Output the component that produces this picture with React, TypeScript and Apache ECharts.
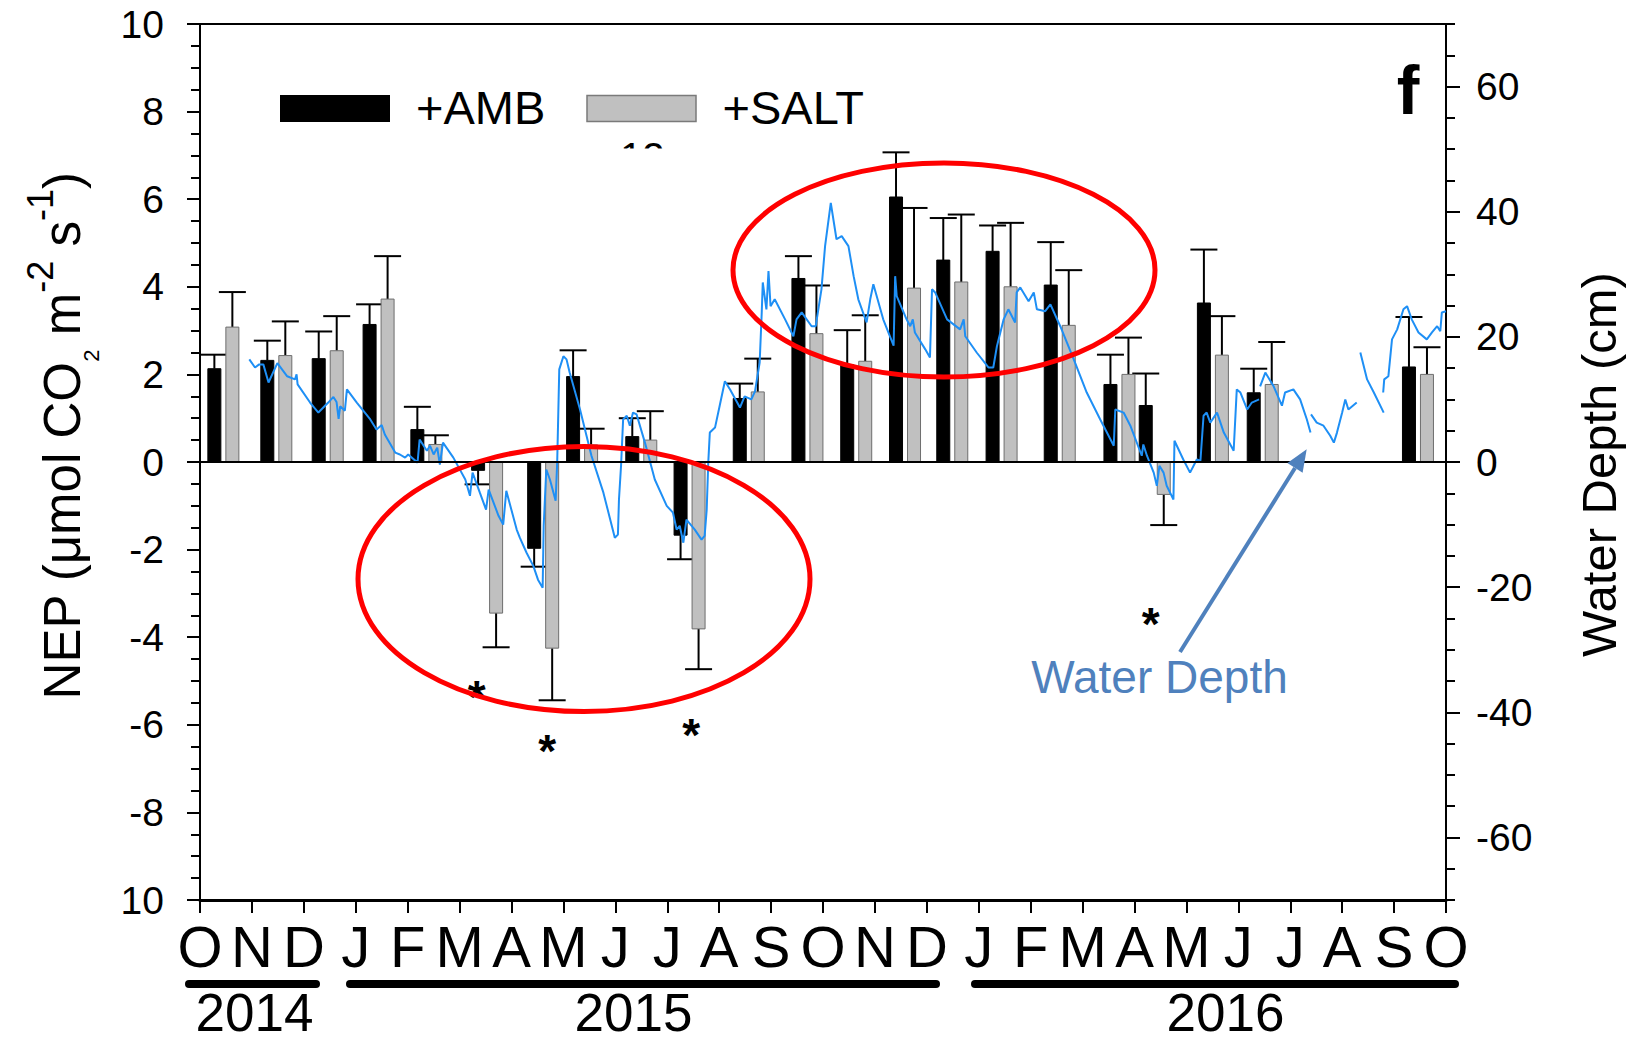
import React, { useEffect, useRef } from 'react';
import * as echarts from 'echarts';

// ---------- data ----------
const monthLabels = ['O','N','D','J','F','M','A','M','J','J','A','S','O','N','D','J','F','M','A','M','J','J','A','S','O'];
const yearLabels = ['2014', '2015', '2016'];
const rightMajorTicks = [-60, -40, -20, 0, 20, 40, 60];

// sampling dates, in months since 1 Oct 2014
const sampleMonths = [0.45, 1.47, 2.46, 3.44, 4.36, 5.53, 6.61, 7.36, 8.50, 9.43, 10.57, 11.70, 12.64, 13.58, 14.49, 15.44, 16.56, 17.71, 18.39, 19.51, 20.47, 23.46];
const ambNEP = [2.13, 2.32, 2.36, 3.14, 0.74, -0.19, -1.97, 1.95, 0.58, -1.67, 1.45, 4.19, 2.22, 6.05, 4.61, 4.81, 4.04, 1.77, 1.29, 3.63, 1.58, 2.17];
const ambSE = [0.32, 0.45, 0.62, 0.46, 0.52, 0.32, 0.42, 0.60, 0.42, 0.55, 0.34, 0.51, 0.79, 1.02, 0.96, 0.59, 0.98, 0.68, 0.73, 1.22, 0.55, 1.14];
const saltNEP = [3.08, 2.43, 2.54, 3.72, 0.40, -3.45, -4.25, 0.39, 0.50, -3.81, 1.60, 2.93, 2.30, 3.97, 4.11, 4.00, 3.12, 2.00, -0.74, 2.44, 1.77, 2.00];
const saltSE = [0.80, 0.78, 0.79, 0.98, 0.21, 0.78, 1.19, 0.37, 0.66, 0.92, 0.76, 1.10, 1.05, 1.83, 1.54, 1.46, 1.26, 0.84, 0.70, 0.89, 0.97, 0.62];

// water depth (cm) vs months since 1 Oct 2014; null = gap in record
const depthMonths = [0.95,1.06,1.14,1.22,1.32,1.49,1.68,1.83,1.86,1.88,2.12,2.28,2.47,2.57,2.63,2.67,2.70,2.79,2.83,3.02,3.28,3.40,3.50,3.56,3.76,3.85,3.95,4.01,4.19,4.23,4.37,4.43,4.50,4.57,4.62,4.68,4.88,5.11,5.20,5.25,5.39,5.51,5.56,5.75,5.84,5.90,6.10,6.16,6.29,6.42,6.51,6.60,6.62,6.67,6.74,6.85,6.88,6.92,7.00,7.06,7.12,7.32,7.54,7.77,7.99,8.05,8.07,8.11,8.15,8.22,8.28,8.34,8.41,8.57,8.76,8.99,9.11,9.18,9.24,9.31,9.37,9.53,9.66,9.72,9.76,9.79,9.82,9.92,10.01,10.11,10.21,10.40,10.49,10.62,10.69,10.78,10.82,10.84,10.91,10.95,10.99,11.07,11.27,11.43,11.49,11.59,11.78,11.86,11.97,12.04,12.15,12.26,12.36,12.49,12.59,12.68,12.84,12.91,12.97,13.16,13.36,13.39,13.42,13.61,13.68,13.73,13.77,13.97,14.06,14.10,14.16,14.39,14.64,14.71,14.74,14.96,15.19,15.28,15.35,15.48,15.57,15.70,15.73,15.80,15.96,16.06,16.12,16.28,16.38,16.57,16.83,17.08,17.34,17.60,17.63,17.79,17.92,18.14,18.17,18.24,18.37,18.43,18.48,18.56,18.62,18.75,18.77,18.94,19.07,19.20,19.27,19.33,19.39,19.46,19.59,19.72,19.91,19.97,20.04,20.17,20.26,20.40,20.41,20.42,20.52,20.68,20.84,20.90,21.06,21.19,21.32,21.39,21.395,21.40,21.51,21.64,21.77,21.84,21.90,22.00,22.06,22.12,22.28,22.31,22.35,22.48,22.61,22.80,22.795,22.79,22.81,22.89,22.96,23.06,23.18,23.25,23.34,23.47,23.63,23.73,23.83,23.89,23.92,24.00];
const depthCm = [16.4,15.1,15.6,15.6,12.7,15.8,13.7,13.2,14.0,12.4,9.5,7.9,9.5,10.4,9.6,6.9,8.9,8.2,11.6,9.5,6.8,5.2,5.9,4.4,1.5,1.2,0.7,1.2,-0.1,3.6,1.8,2.6,1.2,2.3,-0.4,3.1,0.7,-2.8,-5.4,-1.7,-4.9,-7.6,-4.4,-8.6,-10.0,-4.6,-10.8,-12.1,-14.5,-16.6,-18.8,-20.1,-10.2,-1.2,-2.8,-6.2,-0.1,14.8,16.9,16.4,14.3,8.4,1.0,-4.9,-12.1,-11.6,-6.0,-0.6,6.8,7.4,5.8,7.9,7.6,3.1,-2.8,-7.0,-8.1,-10.8,-10.2,-12.9,-9.2,-10.8,-12.4,-11.8,-7.6,-0.1,4.7,5.5,9.0,12.9,11.6,8.7,10.5,10.0,11.3,15.9,23.9,28.7,24.4,30.5,24.9,26.0,22.8,20.1,22.8,23.9,21.7,21.7,27.6,34.5,41.4,35.6,36.1,34.5,29.7,26.0,22.3,26.0,28.4,22.8,18.6,29.7,26.5,22.8,21.7,22.8,20.7,18.0,16.7,27.6,27.1,22.8,21.2,22.8,20.1,17.5,15.1,15.1,18.5,22.8,24.4,22.3,27.1,27.9,25.7,27.1,24.4,24.1,25.2,21.7,16.4,11.1,6.8,2.6,8.4,7.9,5.8,1.0,2.8,1.0,-1.7,-3.8,-0.6,-1.7,-3.8,-6.0,3.4,0.4,-1.7,0.4,0.2,7.4,7.9,6.3,7.9,4.7,1.8,11.6,11.1,8.4,9.5,10.0,null,12.1,14.3,12.1,9.0,11.1,11.6,10.0,6.8,4.7,null,7.6,6.3,5.8,4.2,3.1,4.7,7.9,10.0,8.4,9.5,null,17.5,13.2,11.1,7.9,null,11.1,13.2,13.7,19.6,21.2,24.4,24.9,22.8,20.7,19.6,20.7,21.7,20.9,23.9,24.1];

// significance markers
const starMonths = [5.33, 6.69, 9.46, 18.31];
const starNEP = [-5.14, -6.36, -6.0, -3.47];

const FONT = 'Liberation Sans';

function barRenderer(offset: number, fill: string, stroke: string | null) {
  return (params: any, api: any) => {
    const x = api.value(0);
    const v = api.value(1);
    const se = api.value(2);
    const base = api.coord([x, 0]);
    const top = api.coord([x, v]);
    const end = api.coord([x, v + (v >= 0 ? se : -se)]);
    const cx = base[0] + offset;
    const w = 13;
    const cap = 27;
    const y0 = Math.min(base[1], top[1]);
    const h = Math.abs(base[1] - top[1]);
    return {
      type: 'group',
      children: [
        { type: 'line', shape: { x1: cx, y1: top[1], x2: cx, y2: end[1] }, style: { stroke: '#000', lineWidth: 2 } },
        { type: 'line', shape: { x1: cx - cap / 2, y1: end[1], x2: cx + cap / 2, y2: end[1] }, style: { stroke: '#000', lineWidth: 2 } },
        { type: 'rect', shape: { x: cx - w / 2, y: y0, width: w, height: h }, style: { fill, stroke: stroke || fill, lineWidth: 1 } },
      ],
    };
  };
}

function txt(text: string, x: number, y: number, fontSize: number, extra: any = {}, styleExtra: any = {}) {
  return {
    type: 'text',
    x,
    y,
    z: 50,
    ...extra,
    style: {
      text,
      fontSize,
      fontFamily: FONT,
      fill: '#000',
      align: 'center',
      verticalAlign: 'middle',
      textAlign: 'center',
      textVerticalAlign: 'middle',
      ...styleExtra,
    },
  };
}

export default function App() {
  const ref = useRef<HTMLDivElement>(null);

  useEffect(() => {
    if (!ref.current) return;
    const chart = echarts.init(ref.current, null, { renderer: 'svg' });

    const axisLabelBase = { color: '#000', fontFamily: FONT };

    const option: any = {
      animation: false,
      backgroundColor: '#fff',
      grid: { left: 200, right: 182, top: 24, bottom: 142, show: true, borderColor: '#000', borderWidth: 2, backgroundColor: 'transparent' },
      xAxis: {
        type: 'value',
        min: 0,
        max: 24,
        interval: 1,
        position: 'bottom',
        axisLine: { onZero: false, lineStyle: { color: '#000', width: 3 } },
        axisTick: { length: 13, lineStyle: { color: '#000', width: 2 } },
        splitLine: { show: false },
        axisLabel: {
          ...axisLabelBase,
          fontSize: 58,
          lineHeight: 44,
          margin: 46,
          verticalAlign: 'middle',
          formatter: (v: number) => monthLabels[Math.round(v)] || '',
        },
      },
      yAxis: [
        {
          type: 'value',
          position: 'left',
          min: -10,
          max: 10,
          interval: 2,
          axisLine: { show: true, onZero: false, lineStyle: { color: '#000', width: 2 } },
          axisTick: { show: true, length: 13, lineStyle: { color: '#000', width: 2 } },
          minorTick: { show: true, splitNumber: 4, length: 9, lineStyle: { color: '#000', width: 2 } },
          splitLine: { show: false },
          axisLabel: {
            ...axisLabelBase,
            fontSize: 39,
            margin: 36,
            formatter: (v: number) => (v === -10 ? '10' : String(v)),
          },
        },
        {
          type: 'value',
          position: 'right',
          min: -70,
          max: 70,
          interval: 5,
          axisLine: { show: true, onZero: false, lineStyle: { color: '#000', width: 2 } },
          axisTick: { show: true, length: 14, customValues: rightMajorTicks, lineStyle: { color: '#000', width: 2 } },
          splitLine: { show: false },
          axisLabel: {
            ...axisLabelBase,
            fontSize: 39,
            margin: 30,
            customValues: rightMajorTicks,
            formatter: (v: number) => String(v),
          },
        },
        {
          type: 'value',
          position: 'right',
          min: -70,
          max: 70,
          interval: 5,
          axisLine: { show: false, onZero: false },
          axisTick: { show: true, length: 9, lineStyle: { color: '#000', width: 2 } },
          axisLabel: { show: false },
          splitLine: { show: false },
        },
      ],
      series: [
        {
          name: '+AMB',
          type: 'custom',
          xAxisIndex: 0,
          yAxisIndex: 0,
          z: 2,
          renderItem: barRenderer(-9, '#000000', null),
          encode: { x: 0, y: 1 },
          data: sampleMonths.map((m, i) => [m, ambNEP[i], ambSE[i]]),
        },
        {
          name: '+SALT',
          type: 'custom',
          xAxisIndex: 0,
          yAxisIndex: 0,
          z: 2,
          renderItem: barRenderer(9, '#c0c0c0', '#6e6e6e'),
          encode: { x: 0, y: 1 },
          data: sampleMonths.map((m, i) => [m, saltNEP[i], saltSE[i]]),
        },
        {
          name: 'Water Depth',
          type: 'line',
          xAxisIndex: 0,
          yAxisIndex: 1,
          z: 3,
          symbol: 'none',
          showSymbol: false,
          connectNulls: false,
          lineStyle: { color: '#1e8ff5', width: 2 },
          itemStyle: { color: '#1e8ff5' },
          data: depthMonths.map((m, i) => [m, depthCm[i] === null ? '-' : depthCm[i]]),
          markLine: {
            silent: true,
            symbol: ['none', 'none'],
            label: { show: false },
            lineStyle: { color: '#000', width: 2, type: 'solid' },
            data: [{ yAxis: 0 }],
          },
        },
        {
          name: 'significance',
          type: 'scatter',
          xAxisIndex: 0,
          yAxisIndex: 0,
          z: 4,
          symbolSize: 1,
          itemStyle: { color: 'rgba(0,0,0,0)', opacity: 1 },
          label: {
            show: true,
            position: 'inside',
            formatter: '*',
            fontSize: 46,
            lineHeight: 20,
            fontWeight: 'bold',
            fontFamily: FONT,
            color: '#000',
            opacity: 1,
            offset: [0, 10],
          },
          data: starMonths.map((m, i) => [m, starNEP[i]]),
        },
      ],
      graphic: [
        // legend
        { type: 'rect', shape: { x: 280, y: 95, width: 110, height: 27 }, style: { fill: '#000' }, z: 50 },
        txt('+AMB', 416, 107.5, 47, {}, { align: 'left', textAlign: 'left' }),
        { type: 'rect', shape: { x: 587, y: 95.5, width: 109, height: 26 }, style: { fill: '#c0c0c0', stroke: '#7a7a7a', lineWidth: 1.5 }, z: 50 },
        txt('+SALT', 722.5, 107.5, 47, {}, { align: 'left', textAlign: 'left' }),
        // partially hidden fragment under legend
        txt('12', 620, 157.3, 40, { z: 40 }, { align: 'left', textAlign: 'left' }),
        { type: 'rect', shape: { x: 598, y: 148.5, width: 84, height: 30 }, style: { fill: '#fff' }, z: 45 },
        // panel letter
        txt('f', 1408, 90.3, 68, {}, { fontWeight: 'bold' }),
        // axis titles
        {
          type: 'text',
          x: 62,
          y: 436,
          rotation: Math.PI / 2,
          z: 50,
          style: {
            text: '{n|NEP (μmol CO}{sub|2}{n| m}{sup|-2}{n| s}{sup|-1}{n|)}',
            align: 'center',
            verticalAlign: 'middle',
            textAlign: 'center',
            textVerticalAlign: 'middle',
            fontFamily: FONT,
            fill: '#000',
            rich: {
              n: { fontSize: 51, lineHeight: 80, verticalAlign: 'middle', fontFamily: FONT, fill: '#000', color: '#000' },
              sub: { fontSize: 22, lineHeight: 22, verticalAlign: 'bottom', fontFamily: FONT, fill: '#000', color: '#000' },
              sup: { fontSize: 36, lineHeight: 36, verticalAlign: 'top', fontFamily: FONT, fill: '#000', color: '#000' },
            },
          },
        },
        txt('Water Depth (cm)', 1599, 464.5, 49, { rotation: Math.PI / 2 }, { lineHeight: 40 }),
        // year bars and labels
        { type: 'line', shape: { x1: 189, y1: 984, x2: 316, y2: 984 }, style: { stroke: '#000', lineWidth: 8, lineCap: 'round' }, z: 50 },
        { type: 'line', shape: { x1: 350, y1: 984, x2: 936, y2: 984 }, style: { stroke: '#000', lineWidth: 8, lineCap: 'round' }, z: 50 },
        { type: 'line', shape: { x1: 975, y1: 984, x2: 1455, y2: 984 }, style: { stroke: '#000', lineWidth: 8, lineCap: 'round' }, z: 50 },
        txt(yearLabels[0], 254.4, 1012, 53, {}, { lineHeight: 40 }),
        txt(yearLabels[1], 633.4, 1012, 53, {}, { lineHeight: 40 }),
        txt(yearLabels[2], 1225.5, 1012, 53, {}, { lineHeight: 40 }),
        // red ellipses
        { type: 'ellipse', shape: { cx: 584, cy: 579, rx: 226, ry: 132.5 }, style: { fill: 'none', stroke: '#ff0000', lineWidth: 5 }, z: 60 },
        { type: 'ellipse', shape: { cx: 944, cy: 270, rx: 211, ry: 107 }, style: { fill: 'none', stroke: '#ff0000', lineWidth: 5 }, z: 60 },
        // Water depth annotation arrow
        { type: 'line', shape: { x1: 1180, y1: 652, x2: 1295, y2: 468 }, style: { stroke: '#4f81bd', lineWidth: 4 }, z: 55 },
        { type: 'polygon', shape: { points: [[1306.7, 449.3], [1302.6, 472.7], [1287.4, 463.1]] }, style: { fill: '#4f81bd' }, z: 55 },
        txt('Water Depth', 1159.5, 676.5, 46, {}, { fill: '#4f81bd', lineHeight: 38 }),
      ],
    };

    chart.setOption(option);
    return () => chart.dispose();
  }, []);

  return (
    <div style={{ position: 'absolute', left: 0, top: 0, width: 1628, height: 1042, background: '#fff' }}>
      <div ref={ref} style={{ width: 1628, height: 1042 }} />
    </div>
  );
}
